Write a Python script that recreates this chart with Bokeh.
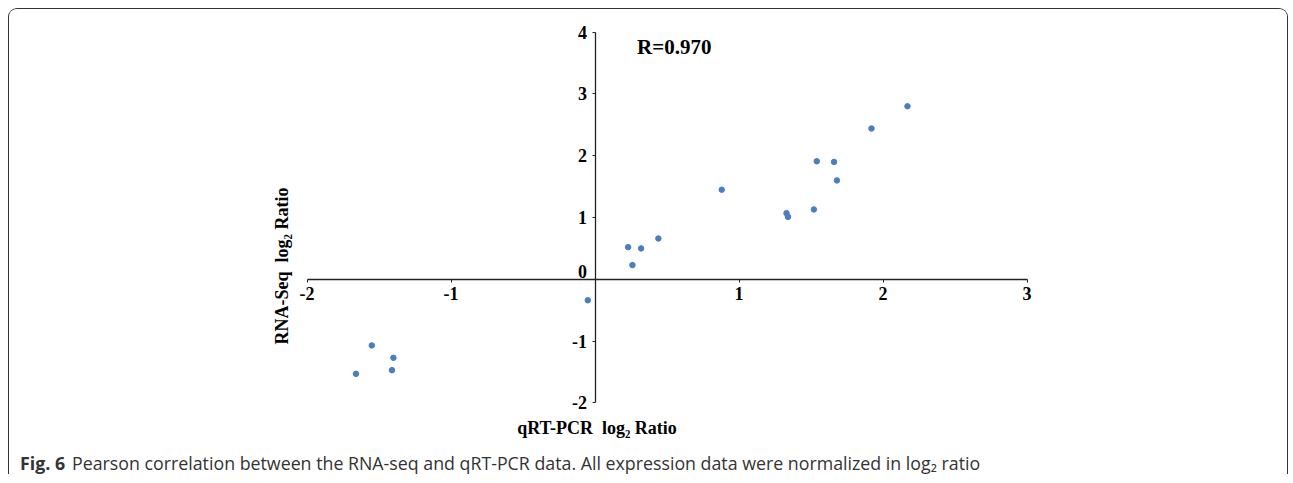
from bokeh.plotting import figure
from bokeh.models import Label, Range1d, FixedTicker
from bokeh.embed import file_html
from bokeh.resources import INLINE

# ---- data ----
qrt_pcr = [-1.66, -1.55, -1.41, -1.40, -0.05, 0.23, 0.26, 0.32, 0.44, 0.88,
           1.33, 1.34, 1.52, 1.54, 1.66, 1.68, 1.92, 2.17]
rna_seq = [-1.53, -1.07, -1.47, -1.27, -0.34, 0.52, 0.23, 0.50, 0.66, 1.45,
           1.07, 1.01, 1.13, 1.91, 1.90, 1.60, 2.44, 2.80]
x_ticks = [-2, -1, 1, 2, 3]
y_ticks = [-2, -1, 0, 1, 2, 3, 4]
r_text = "R=0.970"
x_title = "qRT-PCR\u00a0\u00a0log\u2082 Ratio"
y_title = "RNA-Seq\u00a0\u00a0log\u2082 Ratio"
caption_bold = "Fig. 6"
caption_rest = "Pearson correlation between the RNA-seq and qRT-PCR data. All expression data were normalized in log\u2082 ratio"

# ---- geometry ----
W, H = 1280, 466
OFF = 9.5           # page offset of canvas (margin + border)
X0, SX = 595 - OFF, 144.0   # canvas px of x=0, px per unit
Y0, SY = 279.3 - OFF, 61.8  # canvas px of y=0, px per unit


def dx(page_x):
    return (page_x - OFF - X0) / SX


def dy(page_y):
    return (Y0 - (page_y - OFF)) / SY


p = figure(width=W, height=H, output_backend="svg", toolbar_location=None,
           x_range=Range1d(-X0 / SX, (W - X0) / SX),
           y_range=Range1d((Y0 - H) / SY, Y0 / SY),
           min_border=0, outline_line_color=None,
           background_fill_color="white", border_fill_color="white")
p.styles = {"margin": "8px 0 0 8px", "border": "1.5px solid #333333", "border-bottom": "none",
            "border-radius": "9px 9px 0 0", "overflow": "hidden"}
p.grid.visible = False

for ax, ticks, bounds in ((p.xaxis[0], x_ticks, (-2, 3)), (p.yaxis[0], y_ticks, (-2, 4))):
    ax.fixed_location = 0
    ax.ticker = FixedTicker(ticks=ticks)
    ax.major_label_overrides = {t: str(t) for t in ticks}
    ax.bounds = bounds
    ax.axis_line_color = "#222222"
    ax.axis_line_width = 1.3
    ax.major_tick_line_color = "#222222"
    ax.major_tick_out = 3
    ax.major_tick_in = 0
    ax.minor_tick_line_color = None
    ax.major_label_text_font = "Liberation Serif"
    ax.major_label_text_font_style = "bold"
    ax.major_label_text_font_size = "18px"
    ax.major_label_text_color = "black"
p.xaxis[0].major_label_standoff = 5
p.yaxis[0].major_label_standoff = 5
# the "0" of the value axis sits just above the category axis line
p.yaxis[0].major_label_overrides[0] = ""
p.add_layout(Label(x=0, y=0, x_offset=-8, y_offset=8, text="0", text_font="Liberation Serif",
                   text_font_style="bold", text_font_size="18px", text_color="black",
                   text_baseline="middle", text_align="right"))

p.scatter(qrt_pcr, rna_seq, size=5.5, color="#4a7ec0", line_color="#4a7ec0")

p.add_layout(Label(x=dx(637), y=dy(47), text=r_text, text_font="Liberation Serif",
                   text_font_style="bold", text_font_size="21px", text_color="black",
                   text_baseline="middle", text_align="left"))
p.add_layout(Label(x=dx(597), y=dy(428), text=x_title, text_font="Liberation Serif",
                   text_font_style="bold", text_font_size="18px", text_color="black",
                   text_baseline="middle", text_align="center"))
p.add_layout(Label(x=dx(282), y=dy(266), text=y_title, text_font="Liberation Serif",
                   text_font_style="bold", text_font_size="18px", text_color="black",
                   text_baseline="middle", text_align="center", angle=90, angle_units="deg"))
p.add_layout(Label(x=dx(20), y=dy(463), text=caption_bold, text_font="Open Sans",
                   text_font_style="bold", text_font_size="17.8px", text_color="#333333",
                   text_baseline="middle", text_align="left"))
p.add_layout(Label(x=dx(72), y=dy(463), text=caption_rest, text_font="Open Sans",
                   text_font_size="17.8px", text_color="#333333",
                   text_baseline="middle", text_align="left"))

open("out.html", "w").write(file_html(p, INLINE))
